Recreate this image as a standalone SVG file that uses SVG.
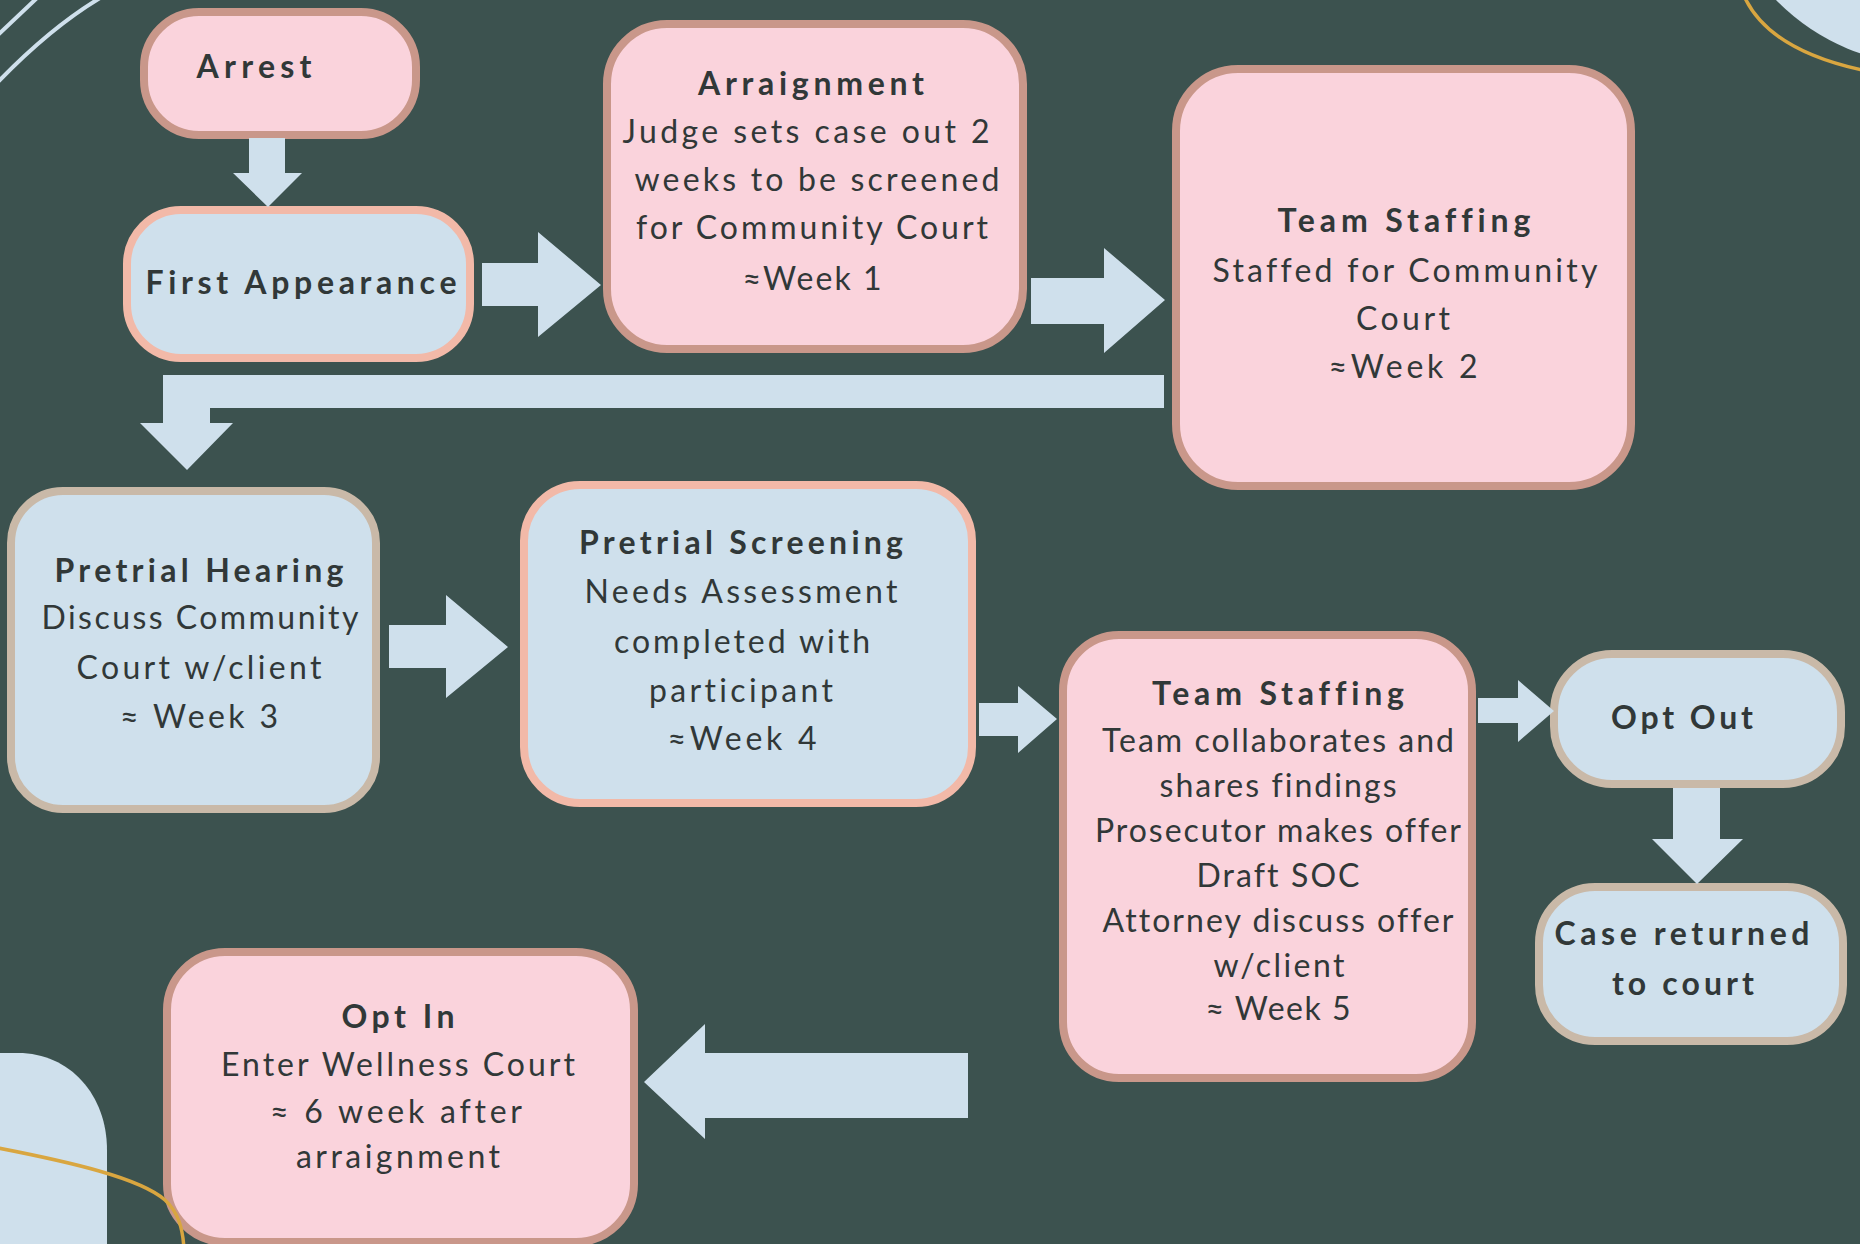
<svg xmlns="http://www.w3.org/2000/svg" width="1860" height="1244" viewBox="0 0 1860 1244">
  <style>
    .pink { fill: #fad3dc; stroke: #c9978a; stroke-width: 8; }
    .blue-peach { fill: #cfe0ec; stroke: #f2b9a8; stroke-width: 8; }
    .blue-tan { fill: #cfe0ec; stroke: #c9b9a8; stroke-width: 8; }
    .arrow { fill: #cfe0ec; }
    .deco-line { fill: none; stroke: #cfe0ec; stroke-width: 4; stroke-linecap: round; }
    .gold { fill: none; stroke: #d9a640; stroke-width: 3.5; }
    text { font-family: Lato, "Open Sans", "Liberation Sans", sans-serif; font-size: 32px; fill: #313838; text-anchor: middle;
           font-variant-ligatures: none; font-feature-settings: "liga" 0, "dlig" 0; }
    .t { font-weight: 700; }
  </style>

  <!-- backdrop -->
  <rect width="1860" height="1244" fill="#3c524f"/>

  <!-- corner ornaments -->
  <g id="ornaments">
    <path class="deco-line" d="M-2,35 Q17,17 37,-2"/>
    <path class="deco-line" d="M-3,83 Q50,28 100,-2"/>
    <circle cx="1930" cy="-150" r="215" fill="#cfe0ec"/>
    <path class="gold" d="M1745,-2 Q1770,50 1862,70"/>
    <path d="M-5,1053 H18 C70,1053 107,1095 107,1150 V1250 H-5 Z" fill="#cfe0ec"/>
  </g>

  <!-- process steps -->
  <g id="arrest">
    <rect class="pink" x="144" y="12" width="272" height="123" rx="55"/>
    <text class="t" x="254" y="78" textLength="115" lengthAdjust="spacing">Arrest</text>
  </g>

  <g id="first-appearance">
    <rect class="blue-peach" x="127" y="210" width="343" height="148" rx="54"/>
    <text class="t" x="301" y="294" font-size="34" textLength="311" lengthAdjust="spacing">First Appearance</text>
  </g>

  <g id="arraignment">
    <rect class="pink" x="607" y="24" width="416" height="325" rx="60"/>
    <text class="t" x="811" y="95" textLength="226" lengthAdjust="spacing">Arraignment</text>
    <text x="806" y="143" textLength="367" lengthAdjust="spacing">Judge sets case out 2</text>
    <text x="817" y="191" textLength="365" lengthAdjust="spacing">weeks to be screened</text>
    <text x="812" y="239" textLength="352" lengthAdjust="spacing">for Community Court</text>
    <text x="812" y="290" textLength="139" lengthAdjust="spacing">≈Week 1</text>
  </g>

  <g id="team-staffing-1">
    <rect class="pink" x="1176" y="69" width="455" height="417" rx="62"/>
    <text class="t" x="1404" y="232" textLength="253" lengthAdjust="spacing">Team Staffing</text>
    <text x="1405" y="282" textLength="385" lengthAdjust="spacing">Staffed for Community</text>
    <text x="1403" y="330" textLength="94" lengthAdjust="spacing">Court</text>
    <text x="1403" y="378" textLength="149" lengthAdjust="spacing">≈Week 2</text>
  </g>

  <g id="pretrial-hearing">
    <rect class="blue-tan" x="11" y="491" width="365" height="318" rx="52"/>
    <text class="t" x="199" y="582" textLength="289" lengthAdjust="spacing">Pretrial Hearing</text>
    <text x="200" y="629" textLength="317" lengthAdjust="spacing">Discuss Community</text>
    <text x="199" y="679" textLength="245" lengthAdjust="spacing">Court w/client</text>
    <text x="199" y="728" textLength="158" lengthAdjust="spacing">≈ Week 3</text>
  </g>

  <g id="pretrial-screening">
    <rect class="blue-peach" x="524" y="485" width="448" height="318" rx="56"/>
    <text class="t" x="741" y="554" textLength="324" lengthAdjust="spacing">Pretrial Screening</text>
    <text x="741" y="603" textLength="313" lengthAdjust="spacing">Needs Assessment</text>
    <text x="742" y="653" textLength="256" lengthAdjust="spacing">completed with</text>
    <text x="741" y="702" textLength="184" lengthAdjust="spacing">participant</text>
    <text x="742" y="750" textLength="149" lengthAdjust="spacing">≈Week 4</text>
  </g>

  <g id="team-staffing-2">
    <rect class="pink" x="1063" y="635" width="409" height="443" rx="56"/>
    <text class="t" x="1278" y="705" textLength="252" lengthAdjust="spacing">Team Staffing</text>
    <text x="1278" y="752" textLength="352" lengthAdjust="spacing">Team collaborates and</text>
    <text x="1278" y="797" textLength="237" lengthAdjust="spacing">shares findings</text>
    <text x="1278" y="842" textLength="366" lengthAdjust="spacing">Prosecutor makes offer</text>
    <text x="1278" y="887" textLength="163" lengthAdjust="spacing">Draft SOC</text>
    <text x="1278" y="932" textLength="351" lengthAdjust="spacing">Attorney discuss offer</text>
    <text x="1279" y="977" textLength="131" lengthAdjust="spacing">w/client</text>
    <text x="1278" y="1020" textLength="145" lengthAdjust="spacing">≈ Week 5</text>
  </g>

  <g id="opt-out">
    <rect class="blue-tan" x="1554" y="654" width="287" height="130" rx="58"/>
    <text class="t" x="1682" y="729" textLength="142" lengthAdjust="spacing">Opt Out</text>
  </g>

  <g id="case-returned">
    <rect class="blue-tan" x="1539" y="887" width="304" height="154" rx="56"/>
    <text class="t" x="1682" y="945" textLength="255" lengthAdjust="spacing">Case returned</text>
    <text class="t" x="1683" y="995" textLength="142" lengthAdjust="spacing">to court</text>
  </g>

  <g id="opt-in">
    <rect class="pink" x="167" y="952" width="467" height="290" rx="58"/>
    <text class="t" x="398" y="1028" textLength="113" lengthAdjust="spacing">Opt In</text>
    <text x="398" y="1076" textLength="354" lengthAdjust="spacing">Enter Wellness Court</text>
    <text x="396" y="1123" textLength="252" lengthAdjust="spacing">≈ 6 week after</text>
    <text x="398" y="1168" textLength="204" lengthAdjust="spacing">arraignment</text>
  </g>

  <!-- block arrows between steps -->
  <g id="connectors">
    <polygon class="arrow" points="249,138 285,138 285,173 302,173 268,207 233,173 249,173"/>
    <polygon class="arrow" points="482,263 538,263 538,232 601,285 538,337 538,306 482,306"/>
    <polygon class="arrow" points="1031,278 1104,278 1104,248 1165,300 1104,353 1104,324 1031,324"/>
    <polygon class="arrow" points="1164,375 163,375 163,423 140,423 187,470 233,423 210,423 210,408 1164,408"/>
    <polygon class="arrow" points="389,625 446,625 446,595 508,647 446,698 446,668 389,668"/>
    <polygon class="arrow" points="979,703 1018,703 1018,686 1057,719 1018,753 1018,736 979,736"/>
    <polygon class="arrow" points="1478,698 1518,698 1518,680 1554,711 1518,742 1518,723 1478,723"/>
    <polygon class="arrow" points="1673,788 1720,788 1720,839 1743,839 1697,884 1652,839 1673,839"/>
    <polygon class="arrow" points="968,1053 968,1118 705,1118 705,1139 644,1082 705,1024 705,1053"/>
  </g>

  <!-- gold ribbon over the lower-left corner -->
  <path class="gold" d="M-2,1148 C70,1162 140,1178 165,1200 C178,1212 183,1228 184,1250"/>
</svg>
